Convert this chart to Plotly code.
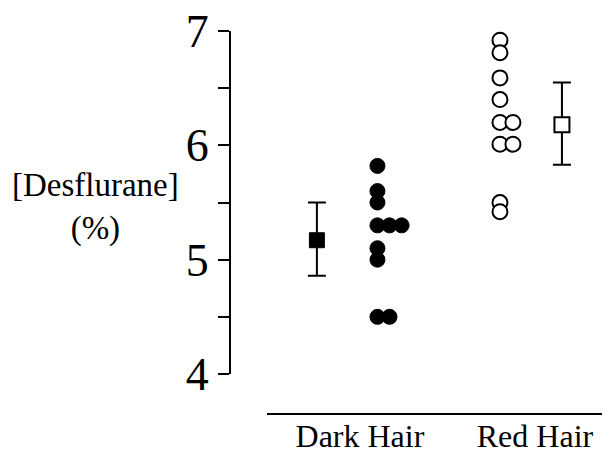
import plotly.graph_objects as go

# ---- data ----
groups = ["Dark Hair", "Red Hair"]
dark_values = [5.82, 5.60, 5.50, 5.30, 5.30, 5.30, 5.10, 5.00, 4.50, 4.50]
red_values = [6.92, 6.81, 6.59, 6.40, 6.20, 6.20, 6.01, 6.01, 5.50, 5.42]
dark_mean, dark_sd_up, dark_sd_down = 5.17, 0.33, 0.31
red_mean, red_sd_up, red_sd_down = 6.18, 0.37, 0.35
y_ticks = [4, 4.5, 5, 5.5, 6, 6.5, 7]
y_ticktext = ["4", "", "5", "", "6", "", "7"]

FONT = "Liberation Serif, Times New Roman, serif"

def column_x(values, base, step):
    seen = {}
    xs = []
    for v in values:
        k = seen.get(v, 0)
        xs.append(base + k * step)
        seen[v] = k + 1
    return xs

dark_x = column_x(dark_values, 1.10, 0.069)
red_x = column_x(red_values, 1.80, 0.074)

fig = go.Figure()

# mean +/- SD, dark
fig.add_trace(go.Scatter(
    x=[1 - 0.246], y=[dark_mean], mode="markers",
    marker=dict(symbol="square", size=15, color="black",
                line=dict(color="black", width=1)),
    error_y=dict(type="data", symmetric=False, array=[dark_sd_up],
                 arrayminus=[dark_sd_down], color="black", thickness=2, width=9),
    showlegend=False))

# individual points, dark
fig.add_trace(go.Scatter(
    x=dark_x, y=dark_values, mode="markers",
    marker=dict(symbol="circle", size=15, color="black",
                line=dict(color="black", width=1)),
    showlegend=False))

# individual points, red (open)
fig.add_trace(go.Scatter(
    x=red_x, y=red_values, mode="markers",
    marker=dict(symbol="circle", size=15, color="white",
                line=dict(color="black", width=2)),
    showlegend=False))

# mean +/- SD, red (open square)
fig.add_trace(go.Scatter(
    x=[2 + 0.154], y=[red_mean], mode="markers",
    marker=dict(symbol="square", size=15, color="white",
                line=dict(color="black", width=2)),
    error_y=dict(type="data", symmetric=False, array=[red_sd_up],
                 arrayminus=[red_sd_down], color="black", thickness=2, width=9),
    showlegend=False))

fig.update_layout(
    width=602, height=446,
    margin=dict(l=222, r=0, t=23, b=40),
    paper_bgcolor="white", plot_bgcolor="white",
    font=dict(family=FONT, color="black"),
    xaxis=dict(
        domain=[37 / 380, 1], range=[0.469, 2.4286],
        anchor="free", position=0, automargin=False,
        showline=True, linecolor="black", linewidth=2,
        showgrid=False, zeroline=False,
        tickvals=[1, 2], ticktext=groups, ticks="",
        ticklabelstandoff=-6, ticklabeloverflow="allow",
        tickfont=dict(family=FONT, size=32, color="black"),
    ),
    yaxis=dict(
        domain=[40 / 383, 1], range=[4, 7],
        anchor="free", position=0, automargin=False,
        showline=True, linecolor="black", linewidth=2,
        showgrid=False, zeroline=False,
        tickvals=y_ticks, ticktext=y_ticktext,
        ticks="outside", ticklen=11, tickwidth=2, tickcolor="black",
        ticklabeloverflow="allow",
        tickfont=dict(family=FONT, size=46, color="black"),
    ),
    annotations=[dict(
        text="[Desflurane]<br>(%)", xref="paper", yref="paper",
        x=-0.354, y=0.541, xanchor="center", yanchor="middle",
        showarrow=False, align="center",
        font=dict(family=FONT, size=33, color="black"),
    )],
)

fig.write_html("out.html")
